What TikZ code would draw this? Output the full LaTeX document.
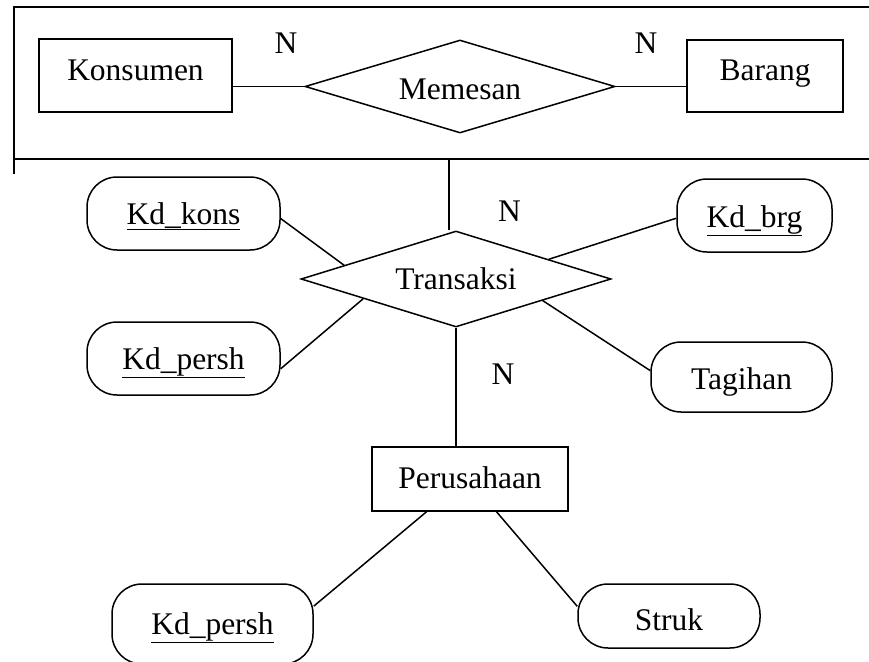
\documentclass[tikz,border=0pt]{standalone}
\usepackage{fontspec}
\setmainfont{Liberation Serif}
\usetikzlibrary{shapes.geometric}
\begin{document}
\begin{tikzpicture}[x=1pt,y=-1pt, line width=1.5pt,
  every node/.style={font=\fontsize{31.5}{36}\selectfont, inner sep=0pt},
  entity/.style={draw, rectangle, text height=21pt},
  rel/.style={draw, diamond, shape aspect=3.3, text height=21pt},
  attr/.style={draw, rectangle, rounded corners=30pt, text height=21pt, text depth=0pt},
  card/.style={text height=21pt, text depth=0pt}]
\useasboundingbox (0,0) rectangle (869,661);
\clip (0,0) rectangle (869,661);
\fill[white] (0,0) rectangle (869,661);
% frame
\draw (869,7) -- (14,7) -- (14,174);
\draw (14,159) -- (869,159);
\coordinate (ftop) at (449,159);
% entities and relations
\node[entity, minimum width=193pt, minimum height=73pt, text depth=11pt] (kons) at (135.5,75.5) {Konsumen};
\node[entity, minimum width=156pt, minimum height=72pt, text depth=12pt] (bar) at (765,76) {Barang};
\node[rel, minimum width=310pt, minimum height=93pt, text height=33pt, text depth=7pt] (mem) at (460,86.5) {Memesan};
\node[rel, minimum width=310pt, minimum height=96pt, text depth=1pt] (trans) at (456,279) {Transaksi};
\node[entity, minimum width=196pt, minimum height=64pt, text depth=3pt] (pers) at (470,479) {Perusahaan};
% attributes
\node[attr, minimum width=193pt, minimum height=73pt] (kdkons) at (183.5,213.5) {\underline{Kd\_kons}};
\node[attr, minimum width=155pt, minimum height=73pt, text height=23pt] (kdbrg) at (754.5,215.5) {\underline{Kd\_brg}};
\node[attr, minimum width=193pt, minimum height=73pt] (kdpersha) at (183.5,358.5) {\underline{Kd\_persh}};
\node[attr, minimum width=181pt, minimum height=70pt, text height=24pt] (tag) at (741.5,377) {Tagihan};
\node[attr, minimum width=201pt, minimum height=80pt] (kdpershb) at (212.5,624) {\underline{Kd\_persh}};
\node[attr, minimum width=182pt, minimum height=64pt, text height=28pt] (struk) at (669,616) {Struk};
% cardinalities
\node[card] (n1) at (286,43) {N};
\node[card] (n2) at (646,43) {N};
\node[card] (n3) at (509.5,210.5) {N};
\node[card] (n4) at (503,373.5) {N};
% connectors
\draw (kons.east |- mem.west) -- (mem.west);
\draw (mem.east) -- (mem.east -| bar.west);
\draw (ftop) -- (ftop |- trans.north);
\draw (kdkons.-3) -- (trans.173);
\draw (kdpersha.-6) -- (trans.192);
\draw (kdbrg.182) -- (trans.12.5);
\draw (tag.176) -- (trans.-14);
\draw (trans.south) -- (trans.south |- pers.north);
\draw (pers.217) -- (kdpershb.10);
\draw (pers.-51) -- (struk.174);
\end{tikzpicture}
\end{document}
